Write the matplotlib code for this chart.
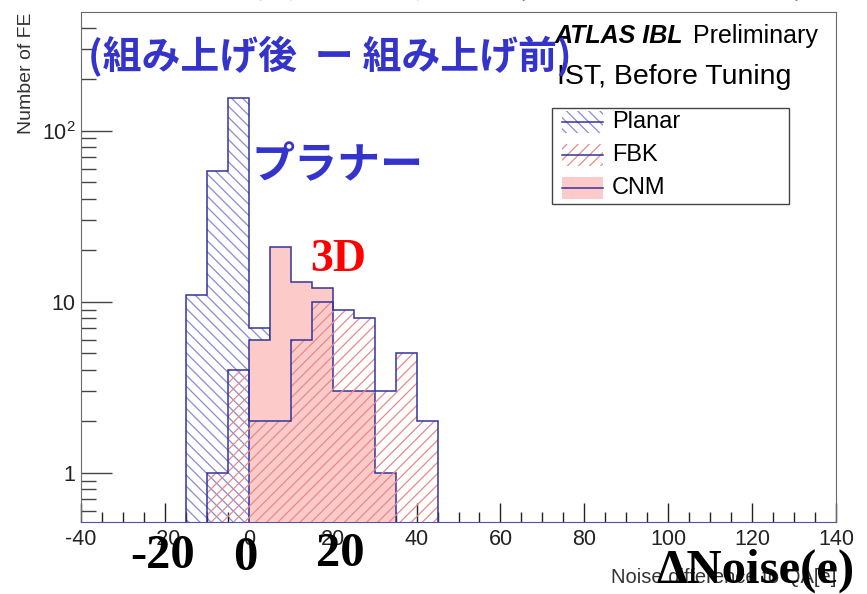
import matplotlib
matplotlib.use('Agg')
import matplotlib.pyplot as plt
from matplotlib.patches import Rectangle
from matplotlib.lines import Line2D
from matplotlib.ticker import MultipleLocator, LogLocator, NullFormatter
import numpy as np

plt.rcParams['font.family'] = ['Liberation Sans', 'DejaVu Sans']
plt.rcParams['mathtext.default'] = 'regular'
plt.rcParams['hatch.linewidth'] = 0.9

# number of FE per 5 e bin
planar_edges = [-15, -10, -5, 0, 5]
planar_counts = [11, 58, 155, 7]
fbk_edges = [-10, -5, 0, 5, 10, 15, 20, 25, 30, 35, 40, 45]
fbk_counts = [1, 4, 2, 2, 6, 10, 9, 8, 3, 5, 2]
cnm_edges = [0, 5, 10, 15, 20, 25, 30, 35]
cnm_counts = [6, 21, 13, 12, 3, 3, 1]

x_ticks = [-40, -20, 0, 20, 40, 60, 80, 100, 120, 140]
y_ticks = [1, 10, 100]
y_tick_labels = ['1', '10', '$10^2$']
legend_labels = ['Planar', 'FBK', 'CNM']

NAVY = '#34349c'
PLANAR_HATCH = '#8a8ad6'
FBK_HATCH = '#e88a8a'
PINK = '#fdcaca'
BLUE_TXT = '#3434cc'
CJK = ['Noto Sans CJK JP', 'DejaVu Sans']
SERIF = ['Liberation Serif', 'DejaVu Serif']

W, H = 867, 594


def px(x, y):
    # pixel position (from top left) -> figure fraction
    return x / W, 1 - y / H


fig = plt.figure(figsize=(W / 100, H / 100), dpi=100)
ax = fig.add_axes([81 / W, 1 - 522 / H, (836 - 81) / W, (522 - 12) / H])
ax.set_yscale('log')

BASE = 0.1
# planar: hatch then outline
ax.stairs(planar_counts, planar_edges, baseline=BASE, fill=True, facecolor='none',
          edgecolor=PLANAR_HATCH, hatch='\\\\\\', lw=0, zorder=1)
ax.stairs(planar_counts, planar_edges, baseline=BASE, fill=False, edgecolor=NAVY, lw=1.1, zorder=2)
# CNM: solid pink
ax.stairs(cnm_counts, cnm_edges, baseline=BASE, fill=True, facecolor=PINK, lw=0, zorder=3)
ax.stairs(cnm_counts, cnm_edges, baseline=BASE, fill=False, edgecolor=NAVY, lw=1.1, zorder=4)
# FBK: red hatch on top
ax.stairs(fbk_counts, fbk_edges, baseline=BASE, fill=True, facecolor='none',
          edgecolor=FBK_HATCH, hatch='///', lw=0, zorder=5)
ax.stairs(fbk_counts, fbk_edges, baseline=BASE, fill=False, edgecolor=NAVY, lw=1.1, zorder=6)

ax.set_xlim(-40, 140)
ax.set_ylim(0.515, 494)

ax.set_xticks(x_ticks)
ax.set_xticklabels([str(t) for t in x_ticks])
ax.xaxis.set_minor_locator(MultipleLocator(5))
ax.set_yticks(y_ticks)
ax.set_yticklabels(y_tick_labels)
ax.yaxis.set_minor_locator(LogLocator(base=10, subs=np.arange(2, 10)))
ax.yaxis.set_minor_formatter(NullFormatter())

ax.tick_params(axis='x', which='major', direction='in', length=14, width=1,
               labelsize=15.5, pad=5, color='#222222', labelcolor='#222222')
ax.tick_params(axis='x', which='minor', direction='in', length=7, width=1, color='#222222')
ax.tick_params(axis='y', which='major', direction='in', length=22, width=1,
               labelsize=15.5, pad=4, color='#444444', labelcolor='#222222')
ax.tick_params(axis='y', which='minor', direction='in', length=11, width=1, color='#444444')

for side in ['top', 'right', 'left']:
    ax.spines[side].set_color('#6a6a6a')
ax.spines['bottom'].set_color('#5050a8')

# axis titles, ROOT style
fig.text(*px(27, 12), 'Number of FE', rotation=90, ha='center', va='top',
         fontsize=14, color='#333333')
fig.text(*px(836, 583), 'Noise difference to QA[e]', ha='right', va='baseline',
         fontsize=14.5, color='#333333')

# ATLAS label
fig.text(*px(555, 43), 'ATLAS IBL', fontsize=18, fontweight='bold', fontstyle='italic',
         va='baseline', ha='left')
fig.text(*px(693, 43), 'Preliminary', fontsize=18, va='baseline', ha='left')
fig.text(*px(557, 84), 'IST, Before Tuning', fontsize=20.5, va='baseline', ha='left')

# legend box
lx0, ly0, lx1, ly1 = 552, 108, 789, 204
fig.patches.append(Rectangle(px(lx0, ly1), (lx1 - lx0) / W, (ly1 - ly0) / H,
                             transform=fig.transFigure, facecolor='white',
                             edgecolor='#444444', lw=1, zorder=10))
leg_styles = [
    dict(facecolor='none', edgecolor=PLANAR_HATCH, hatch='\\\\\\'),
    dict(facecolor='none', edgecolor=FBK_HATCH, hatch='///'),
    dict(facecolor=PINK, edgecolor=PINK),
]
for i, (lab, st) in enumerate(zip(legend_labels, leg_styles)):
    yc = 122 + i * 33
    fig.patches.append(Rectangle(px(562, yc + 11), 41 / W, 22 / H, transform=fig.transFigure,
                                 lw=0, zorder=11, **st))
    fig.lines.append(Line2D([562 / W, 603 / W], [1 - yc / H, 1 - yc / H],
                            transform=fig.transFigure, color=NAVY, lw=1.1, zorder=12))
    fig.text(*px(612, yc), lab, fontsize=17, va='center', ha='left', zorder=12)

# slide annotations on top of the plot (first line is cut by the page edge)
fig.text(*px(140, -3), 'ノイズ変化量の分布（プラナー と 3D）', family=CJK, fontweight='bold',
         fontsize=28, color=BLUE_TXT, va='baseline', ha='left')
fig.text(*px(88, 57), '(組み上げ後  ー 組み上げ前)', family=CJK, fontweight='bold',
         fontsize=28, color=BLUE_TXT, va='center', ha='left', zorder=20)
fig.text(*px(337, 165), 'プラナー', family=CJK, fontweight='bold', fontsize=31,
         color=BLUE_TXT, va='center', ha='center', zorder=20)
fig.text(*px(338, 260), '3D', family=SERIF, fontweight='bold', fontsize=33,
         color='#ff0000', va='center', ha='center', zorder=20)
fig.text(*px(163, 556), '-20', family=SERIF, fontweight='bold', fontsize=35,
         color='black', va='center', ha='center', zorder=20)
fig.text(*px(245, 558), '0', family=SERIF, fontweight='bold', fontsize=35,
         color='black', va='center', ha='center', zorder=20)
fig.text(*px(340, 554), '20', family=SERIF, fontweight='bold', fontsize=35,
         color='black', va='center', ha='center', zorder=20)
fig.text(*px(755, 583), 'ΔNoise(e)', family=SERIF, fontweight='bold', fontsize=35,
         color='black', va='baseline', ha='center', zorder=20)

fig.savefig('out.png', dpi=100)
